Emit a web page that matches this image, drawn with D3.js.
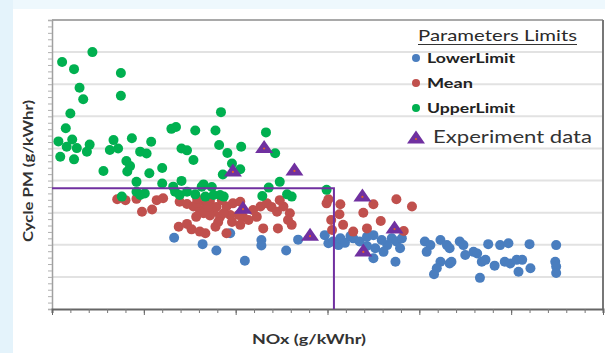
<!DOCTYPE html>
<html><head><meta charset="utf-8">
<script src="https://cdn.jsdelivr.net/npm/d3@7"></script>
<style>html,body{margin:0;padding:0;background:#fff;} svg{display:block}</style>
</head><body>
<svg id="c" width="605" height="353"></svg>
<script>
// ---- DATA (NOx g/kWhr, Cycle PM g/kWhr; axis units) ----
const lowerLimit = [
 [1.33,2.22],[1.64,2.02],[1.79,1.82],[1.94,2.36],[2.10,1.50],[2.28,2.15],[2.28,1.98],[2.55,1.82],[2.68,2.16],
 [2.97,2.30],[3.01,2.05],[3.06,2.10],[3.12,1.99],[3.14,2.20],[3.28,2.20],[3.35,2.10],[3.43,2.25],[3.50,2.30],
 [3.52,1.89],[3.50,1.58],[3.65,1.99],[3.70,2.20],[3.75,2.10],[3.81,2.20],[3.79,1.89],[3.74,1.47],
 [3.19,2.06],[3.25,2.27],[3.43,1.96],[3.59,2.15],[3.61,1.78],
 [4.06,2.10],[4.12,1.99],[4.23,2.15],[4.30,1.99],[4.08,1.78],[4.23,1.47],[4.33,1.42],[4.19,1.27],[4.16,1.08],
 [4.33,1.89],[4.35,1.47],[4.44,2.10],[4.48,1.99],[4.50,1.68],[4.59,1.78],[4.63,1.73],[4.75,2.02],[4.88,1.99],
 [4.97,2.05],[5.20,2.02],[5.49,1.99],[4.68,1.47],[4.72,1.53],[4.82,1.35],[4.93,1.47],[4.99,1.42],[5.06,1.53],
 [5.12,1.53],[5.08,1.16],[5.21,1.27],[4.66,0.97],[5.48,1.47],[5.49,1.32],[5.49,1.12]
];
const mean = [
 [0.71,3.42],[0.80,3.39],[0.92,3.43],[0.98,3.03],[1.09,3.10],[1.14,3.39],[1.21,3.45],[1.39,3.34],[1.47,3.27],
 [1.54,3.19],[1.61,3.08],[1.67,3.30],[1.72,3.36],[1.76,3.03],[1.65,2.98],[1.72,2.91],[1.83,2.87],[1.79,3.18],
 [1.90,3.19],[1.94,2.93],[1.97,3.29],[2.05,3.34],[2.08,2.87],[2.14,2.77],[2.05,2.62],[2.19,3.08],[2.27,3.19],
 [2.34,3.29],[2.39,3.18],[2.45,3.03],[2.52,3.19],[2.48,3.39],[2.59,2.98],[2.57,2.77],[2.61,2.62],[2.30,2.51],
 [2.46,2.51],[1.38,2.56],[1.47,2.65],[1.52,2.48],[1.61,2.41],[1.67,2.36],[1.78,2.56],[1.90,2.36],[1.87,2.98],
 [2.03,2.93],[1.58,3.30],[1.58,3.43],[1.70,3.18],[1.85,3.39],[1.81,2.71],[1.57,2.87],[1.96,2.71],[2.23,2.87],
 [2.99,3.29],[3.01,3.42],[3.14,3.26],[3.13,2.95],[3.04,2.77],[3.05,2.46],[3.17,2.62],
 [3.28,2.41],[3.39,3.00],[3.50,3.26],[3.58,2.74],[3.75,3.42],[3.92,3.19],[3.83,2.43],[3.43,2.51]
];
const upperLimit = [
 [0.44,8.00],[0.11,7.69],[0.24,7.47],[0.75,7.35],[0.30,6.89],[0.34,6.53],[0.75,6.64],[0.20,6.09],[0.15,5.63],
 [1.30,5.61],[1.35,5.67],[1.56,5.56],[1.78,5.56],[1.84,6.13],[2.33,5.50],[0.07,5.22],[0.22,5.28],[0.27,5.01],
 [0.16,5.05],[0.41,5.12],[0.38,4.90],[0.67,5.26],[0.63,4.95],[0.72,5.00],[0.87,5.32],[1.08,5.21],[0.96,4.90],
 [1.03,4.84],[1.41,5.00],[1.47,4.94],[1.54,4.64],[1.82,5.11],[1.91,4.86],[2.06,5.05],[2.43,4.85],[0.09,4.74],
 [0.24,4.66],[0.56,4.30],[0.81,4.61],[0.85,4.45],[0.82,4.28],[1.06,4.23],[1.20,4.39],[1.96,4.53],[2.05,4.35],
 [1.86,4.19],[2.48,3.96],[0.92,3.96],[1.20,3.91],[1.41,3.99],[1.32,3.81],[1.65,3.88],[1.74,3.80],[2.36,3.78],
 [0.76,3.50],[0.92,3.65],[0.96,3.55],[1.01,3.60],[1.34,3.65],[1.39,3.55],[1.47,3.65],[1.56,3.57],[1.67,3.50],
 [1.83,3.55],[1.87,3.50],[2.29,3.52],[2.56,3.57],[2.61,3.50],[2.99,3.71],[1.63,3.81],[1.76,3.55]
];
const experiment = [
 [1.97,4.30],[2.31,5.03],[2.64,4.33],[2.08,3.14],[2.81,2.30],[3.38,3.52],[3.73,2.52],[3.39,1.81]
];
const limitNOx = 3.07, limitPM = 3.76;
const xDomain = [0, 6], yDomain = [0, 9];
const xMajorTicks = d3.range(0, 6.001, 1), xMinorTicks = d3.range(0, 6.001, 0.2);
const yGridTicks = d3.range(1, 9, 1), yMinorTicks = d3.range(0, 9.001, 0.2);
const seriesNames = ["LowerLimit", "Mean", "UpperLimit"];
const experimentName = "Experiment data";
const legendTitle = "Parameters Limits";
const xTitle = "NOx (g/kWhr)", yTitle = "Cycle PM (g/kWhr)";

// ---- STYLE ----
const colors = {LowerLimit: "#4a7ebf", Mean: "#c0504d", UpperLimit: "#00b050"};
const purple = "#7030a0";

const svg = d3.select("#c");
svg.append("rect").attr("width", 605).attr("height", 353).attr("fill", "#ffffff");
svg.append("rect").attr("x", 0).attr("y", 0).attr("width", 605).attr("height", 9).attr("fill", "#eef8fd");
svg.append("rect").attr("x", 0).attr("y", 0).attr("width", 13).attr("height", 353).attr("fill", "#e4f3fb");

const x = d3.scaleLinear().domain(xDomain).range([52, 603]);
const y = d3.scaleLinear().domain(yDomain).range([309, 20]);

// gridlines
svg.append("g").selectAll("line").data(yGridTicks).join("line")
  .attr("x1", x(0)).attr("x2", x(6)).attr("y1", d => y(d)).attr("y2", d => y(d))
  .attr("stroke", "#e2e2e2").attr("stroke-width", 2);

// frame top/right
svg.append("line").attr("x1", x(0)).attr("x2", x(6)).attr("y1", y(9)).attr("y2", y(9))
  .attr("stroke", "#8c8c8c").attr("stroke-width", 1.5);
svg.append("line").attr("x1", x(6)).attr("x2", x(6)).attr("y1", y(9)).attr("y2", y(0))
  .attr("stroke", "#777").attr("stroke-width", 2);

// y axis with minor ticks
const yAx = svg.append("g").attr("transform", `translate(${x(0)},0)`)
  .call(d3.axisLeft(y).tickValues(yMinorTicks).tickSize(4).tickFormat(""));
yAx.selectAll("line").attr("stroke", "#b0b0b0");
yAx.select(".domain").attr("stroke", "#a0a0a0").attr("stroke-width", 1.5);

// x axis minor & major
const xAxMinor = svg.append("g").attr("transform", `translate(0,${y(0)})`)
  .call(d3.axisBottom(x).tickValues(xMinorTicks).tickSize(4).tickFormat(""));
xAxMinor.selectAll("line").attr("stroke", "#777");
xAxMinor.select(".domain").attr("stroke", "#666").attr("stroke-width", 2);
const xAxMajor = svg.append("g").attr("transform", `translate(0,${y(0)})`)
  .call(d3.axisBottom(x).tickValues(xMajorTicks).tickSize(6).tickFormat(""));
xAxMajor.selectAll("line").attr("stroke", "#666");
xAxMajor.select(".domain").remove();

// scatter series (drawn LowerLimit, Mean, UpperLimit)
const seriesData = {LowerLimit: lowerLimit, Mean: mean, UpperLimit: upperLimit};
seriesNames.forEach(name => {
  svg.append("g").selectAll("circle").data(seriesData[name]).join("circle")
    .attr("cx", d => x(d[0])).attr("cy", d => y(d[1])).attr("r", 5)
    .attr("fill", colors[name]);
});

// limit line
svg.append("path")
  .attr("d", `M${x(0)},${y(limitPM)}L${x(limitNOx)},${y(limitPM)}L${x(limitNOx)},${y(0)}`)
  .attr("fill", "none").attr("stroke", purple).attr("stroke-width", 2);

// experiment triangles
const tri = "M0,-7.5L9,5.5L-9,5.5Z";
const eg = svg.append("g").selectAll("g").data(experiment).join("g")
  .attr("transform", d => `translate(${x(d[0])},${y(d[1])})`);
eg.append("path").attr("d", tri).attr("fill", purple);
eg.append("circle").attr("cx", 0).attr("cy", 1).attr("r", 1.1).attr("fill", "#e0602a");

// legend
const font = "Lato, 'Open Sans', sans-serif";
svg.append("text").attr("x", 418).attr("y", 41).text(legendTitle)
  .attr("font-family", font).attr("font-size", 15).attr("fill", "#2a2a2a")
  .attr("textLength", 159).attr("lengthAdjust", "spacingAndGlyphs");
svg.append("line").attr("x1", 418).attr("x2", 577).attr("y1", 44.5).attr("y2", 44.5)
  .attr("stroke", "#333").attr("stroke-width", 1.2);
const legY = [58, 83, 108], legW = [88, 46, 88];
seriesNames.forEach((name, i) => {
  svg.append("circle").attr("cx", 416).attr("cy", legY[i]).attr("r", 4).attr("fill", colors[name]);
  svg.append("text").attr("x", 427).attr("y", legY[i] + 5).text(name)
    .attr("font-family", font).attr("font-weight", "bold").attr("font-size", 14).attr("fill", "#222")
    .attr("textLength", legW[i]).attr("lengthAdjust", "spacingAndGlyphs");
});
svg.append("path").attr("d", tri).attr("fill", purple).attr("transform", "translate(416,138)");
svg.append("circle").attr("cx", 416).attr("cy", 139).attr("r", 1.1).attr("fill", "#e0602a");
svg.append("text").attr("x", 433).attr("y", 143).text(experimentName)
  .attr("font-family", font).attr("font-size", 18).attr("fill", "#333")
  .attr("textLength", 159).attr("lengthAdjust", "spacingAndGlyphs");

// axis titles
svg.append("text").attr("x", 309).attr("y", 344).attr("text-anchor", "middle").text(xTitle)
  .attr("font-family", font).attr("font-weight", "bold").attr("font-size", 13).attr("fill", "#333")
  .attr("textLength", 114).attr("lengthAdjust", "spacingAndGlyphs");
svg.append("text").attr("transform", "translate(33,171) rotate(-90)").attr("text-anchor", "middle").text(yTitle)
  .attr("font-family", font).attr("font-weight", "bold").attr("font-size", 14).attr("fill", "#333")
  .attr("textLength", 142).attr("lengthAdjust", "spacingAndGlyphs");
</script>
</body></html>
